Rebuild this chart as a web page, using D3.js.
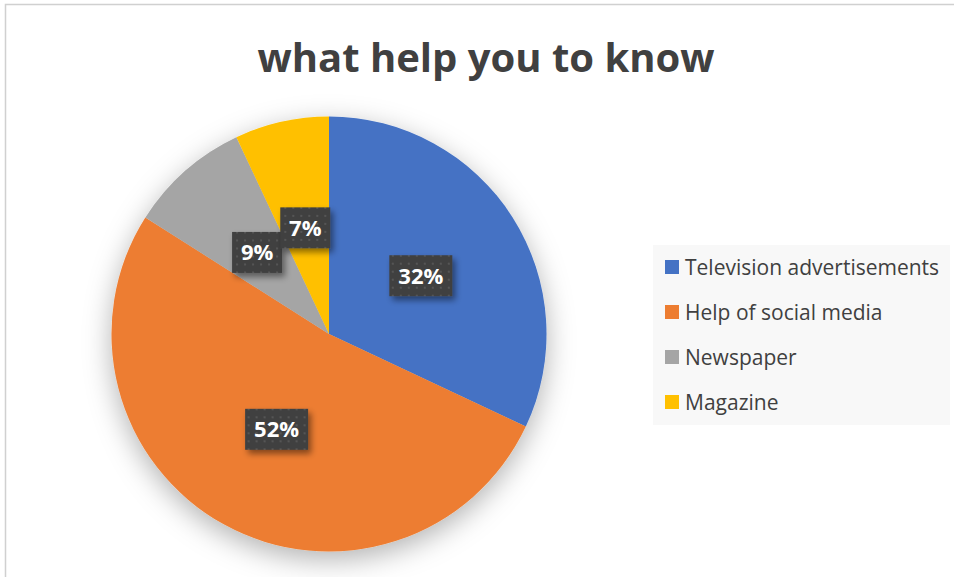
<!DOCTYPE html>
<html>
<head>
<meta charset="utf-8">
<script src="https://cdn.jsdelivr.net/npm/d3@7"></script>
<style>
  body { margin: 0; background: #fff; }
  svg { display: block; font-family: "Open Sans", "Noto Sans", sans-serif; }
</style>
</head>
<body>
<script>
// Data
const categories = ["Television advertisements", "Help of social media", "Newspaper", "Magazine"];
const values = [32, 52, 9, 7];
const colors = ["#4472C4", "#ED7D31", "#A5A5A5", "#FFC000"];
const title = "what help you to know";

const width = 954;
const height = 577;
const cx = 329, cy = 334, radius = 217.5;

const svg = d3.select("body").append("svg")
  .attr("width", width)
  .attr("height", height);

const defs = svg.append("defs");

// soft shadow under the pie
const pieShadow = defs.append("filter").attr("id", "pieShadow")
  .attr("x", "-30%").attr("y", "-30%").attr("width", "160%").attr("height", "160%");
pieShadow.append("feDropShadow")
  .attr("dx", 0).attr("dy", 8).attr("stdDeviation", 14)
  .attr("flood-color", "#000").attr("flood-opacity", 0.3);

// shadow for label boxes
const boxShadow = defs.append("filter").attr("id", "boxShadow")
  .attr("x", "-30%").attr("y", "-30%").attr("width", "160%").attr("height", "160%");
boxShadow.append("feDropShadow")
  .attr("dx", 3).attr("dy", 4).attr("stdDeviation", 3)
  .attr("flood-color", "#000").attr("flood-opacity", 0.45);

// dotted texture of the label boxes
const dots = defs.append("pattern").attr("id", "dots")
  .attr("width", 8).attr("height", 8).attr("patternUnits", "userSpaceOnUse");
dots.append("rect").attr("width", 8).attr("height", 8).attr("fill", "#404040");
dots.append("rect").attr("x", 3).attr("y", 3).attr("width", 2).attr("height", 2).attr("fill", "#555555");

// chart area border
svg.append("rect")
  .attr("x", 5.5).attr("y", 4.5)
  .attr("width", 970).attr("height", 620)
  .attr("fill", "#fff")
  .attr("stroke", "#d0d0d0")
  .attr("stroke-width", 1.5);

// title
svg.append("text")
  .attr("x", 486).attr("y", 72)
  .attr("text-anchor", "middle")
  .attr("font-size", 40)
  .attr("font-weight", "bold")
  .attr("fill", "#404040")
  .text(title);

// pie
const data = categories.map((c, i) => ({ name: c, value: values[i], color: colors[i] }));
const pie = d3.pie().value(d => d.value).sort(null);
const arc = d3.arc().innerRadius(0).outerRadius(radius);
const labelArc = d3.arc().innerRadius(radius * 0.5).outerRadius(radius * 0.5);
const arcs = pie(data);

const g = svg.append("g").attr("transform", `translate(${cx},${cy})`);

g.append("g").attr("filter", "url(#pieShadow)")
  .selectAll("path")
  .data(arcs)
  .enter()
  .append("path")
  .attr("d", arc)
  .attr("fill", d => d.data.color);

// data labels
const total = d3.sum(values);
const labels = g.selectAll(".label")
  .data(arcs)
  .enter()
  .append("g")
  .attr("class", "label")
  .attr("transform", d => `translate(${labelArc.centroid(d)})`);

labels.append("rect")
  .attr("x", d => d.data.value >= 10 ? -31.5 : -25)
  .attr("y", -20.5)
  .attr("width", d => d.data.value >= 10 ? 63 : 50)
  .attr("height", 41)
  .attr("fill", "url(#dots)")
  .attr("filter", "url(#boxShadow)");

labels.append("text")
  .attr("text-anchor", "middle")
  .attr("dy", "0.36em")
  .attr("font-size", 22)
  .attr("font-weight", "bold")
  .attr("fill", "#fff")
  .text(d => Math.round(d.data.value / total * 100) + "%");

// legend
const legend = svg.append("g").attr("transform", "translate(653,245)");
legend.append("rect")
  .attr("width", 297).attr("height", 180)
  .attr("fill", "#f8f8f8");

const legendY = d3.scalePoint().domain(categories).range([22, 157]);

const items = legend.selectAll(".item")
  .data(data)
  .enter()
  .append("g")
  .attr("class", "item")
  .attr("transform", d => `translate(12,${legendY(d.name)})`);

items.append("rect")
  .attr("x", 0).attr("y", -7)
  .attr("width", 14).attr("height", 14)
  .attr("fill", d => d.color);

items.append("text")
  .attr("x", 20)
  .attr("dy", "0.36em")
  .attr("font-size", 21)
  .attr("fill", "#404040")
  .text(d => d.name);
</script>
</body>
</html>
